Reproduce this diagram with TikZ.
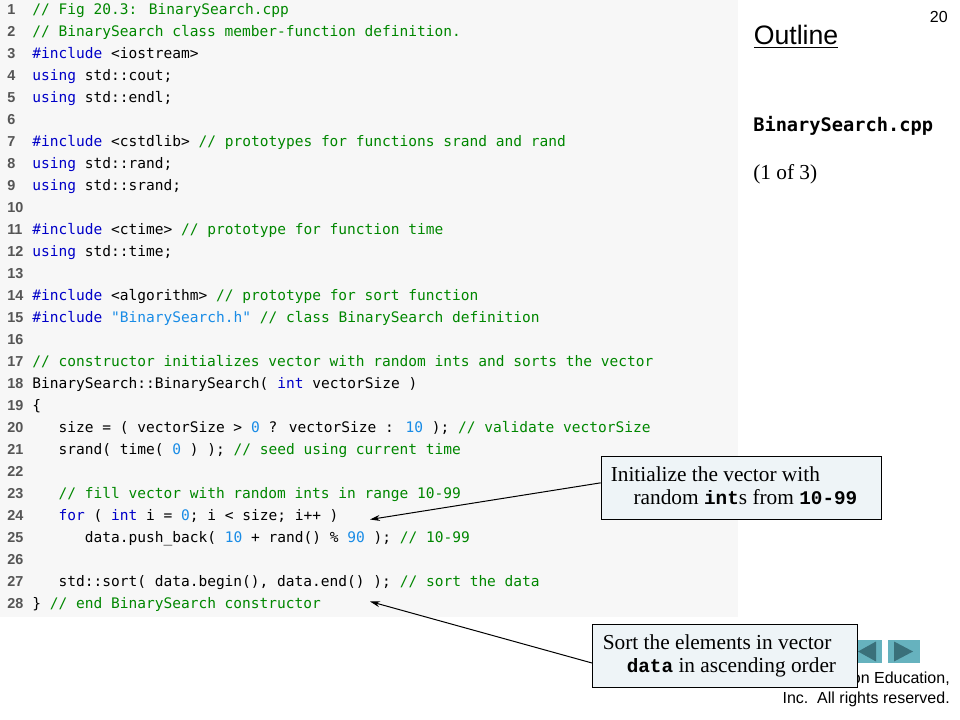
\documentclass[tikz,border=0pt]{standalone}
\usepackage{fontspec}
\setmainfont{Liberation Serif}
\newfontfamily\codefont{DejaVu Sans Mono}
\newfontfamily\arialfont{Liberation Sans}
\newfontfamily\courfont{Liberation Mono}
\usetikzlibrary{arrows.meta}
\definecolor{codebg}{RGB}{247,247,247}
\definecolor{kwblue}{RGB}{0,0,200}
\definecolor{cmgreen}{RGB}{0,135,0}
\definecolor{numblue}{RGB}{25,140,230}
\definecolor{lngray}{RGB}{85,85,85}
\definecolor{boxfill}{RGB}{238,244,247}
\definecolor{navbg}{RGB}{102,178,190}
\definecolor{navtri}{RGB}{58,112,122}
\newcommand\ckw[1]{\textcolor{kwblue}{#1}}
\newcommand\ccm[1]{\textcolor{cmgreen}{#1}}
\newcommand\cnum[1]{\textcolor{numblue}{#1}}
\newcommand\cbold[1]{{\courfont\bfseries\fontsize{14.5pt}{16pt}\selectfont #1}}
\newcommand\codeat[2]{\node[codeline] (L#1) at (32,{14.7+22*(#1-1)}) {#2};}
\tikzset{
  codeline/.style={anchor=base west, inner sep=0pt, font=\codefont\fontsize{10.9pt}{13pt}\selectfont},
  lnum/.style={anchor=base west, inner sep=0pt, text=lngray, font=\arialfont\bfseries\fontsize{10.8pt}{12pt}\selectfont},
  callout/.style={draw=black, line width=0.75pt, fill=boxfill, inner sep=0pt},
  calltext/.style={anchor=base west, inner sep=0pt, font=\fontsize{16pt}{19pt}\selectfont},
  conn/.style={draw=black, line width=0.75pt, -{Stealth[length=7.5pt,width=4.5pt]}},
  navbtn/.style={fill=navbg, inner sep=0pt, minimum width=24pt, minimum height=17.25pt},
  sidetext/.style={anchor=base west, inner sep=0pt}
}
\begin{document}
\begin{tikzpicture}[x=0.75pt,y=-0.75pt]
\useasboundingbox (0,0) rectangle (960,720);
\fill[codebg] (0,0) rectangle (738,617);
% line numbers
\foreach \i in {1,...,28} \node[lnum] (N\i) at (7,{14.7+22*(\i-1)}) {\i};
% code
\codeat{1}{\ccm{// Fig 20.3: BinarySearch.cpp}}
\codeat{2}{\ccm{// BinarySearch class member-function definition.}}
\codeat{3}{\ckw{\#include} <iostream>}
\codeat{4}{\ckw{using} std::cout;}
\codeat{5}{\ckw{using} std::endl;}
\codeat{7}{\ckw{\#include} <cstdlib> \ccm{// prototypes for functions srand and rand}}
\codeat{8}{\ckw{using} std::rand;}
\codeat{9}{\ckw{using} std::srand;}
\codeat{11}{\ckw{\#include} <ctime> \ccm{// prototype for function time}}
\codeat{12}{\ckw{using} std::time;}
\codeat{14}{\ckw{\#include} <algorithm> \ccm{// prototype for sort function}}
\codeat{15}{\ckw{\#include} \cnum{"BinarySearch.h"} \ccm{// class BinarySearch definition}}
\codeat{17}{\ccm{// constructor initializes vector with random ints and sorts the vector}}
\codeat{18}{BinarySearch::BinarySearch( \ckw{int} vectorSize )}
\codeat{19}{\{}
\codeat{20}{\phantom{xxx}size = ( vectorSize > \cnum{0} ? vectorSize : \cnum{10} ); \ccm{// validate vectorSize}}
\codeat{21}{\phantom{xxx}srand( time( \cnum{0} ) ); \ccm{// seed using current time}}
\codeat{23}{\phantom{xxx}\ccm{// fill vector with random ints in range 10-99}}
\codeat{24}{\phantom{xxx}\ckw{for} ( \ckw{int} i = \cnum{0}; i < size; i++ )}
\codeat{25}{\phantom{xxxxxx}data.push\_back( \cnum{10} + rand() \% \cnum{90} ); \ccm{// 10-99}}
\codeat{27}{\phantom{xxx}std::sort( data.begin(), data.end() ); \ccm{// sort the data}}
\codeat{28}{\} \ccm{// end BinarySearch constructor}}
% right side
\node[anchor=base east, inner sep=0pt, font=\arialfont\fontsize{12pt}{14pt}\selectfont] (pgnum) at (948,23) {20};
\node[sidetext, font=\arialfont\fontsize{20pt}{24pt}\selectfont] (outline) at (753.5,45) {\underline{Outline}};
\node[sidetext, font=\codefont\bfseries\fontsize{14pt}{16pt}\selectfont] (fname) at (753,132) {BinarySearch.cpp};
\node[sidetext, font=\fontsize{16pt}{19pt}\selectfont] (part) at (753,180) {(1 of 3)};
% copyright
\node[anchor=base east, inner sep=0pt, font=\arialfont\fontsize{12pt}{14pt}\selectfont] (copy1) at (950,683) {on Education,};
\node[anchor=base east, inner sep=0pt, font=\arialfont\fontsize{12pt}{14pt}\selectfont] (copy2) at (950,703) {Inc.\ \ All rights reserved.};
% navigation buttons
\node[navbtn] (prev) at (866,651.5) {};
\node[navbtn] (next) at (904,651.5) {};
\fill[navtri] (876,641.5) -- (858,651.5) -- (876,661.5) -- cycle;
\fill[navtri] (894,641.5) -- (913,651.5) -- (894,661.5) -- cycle;
% callouts
\node[callout, anchor=north west, minimum width=210pt, minimum height=47pt] (box1) at (600.7,456) {};
\node[calltext] (t1a) at (610.5,481) {Initialize the vector with};
\node[calltext] (t1b) at (633.3,504) {random \cbold{int}s from \cbold{10-99}};
\node[callout, anchor=north west, minimum width=198.75pt, minimum height=47.25pt] (box2) at (592,624) {};
\node[calltext] (t2a) at (602.5,649.3) {Sort the elements in vector};
\node[calltext] (t2b) at (626.5,672.3) {\cbold{data} in ascending order};
% connectors
\coordinate (tip1) at (370,519.5);
\coordinate (tip2) at (370,601.5);
\draw[conn] ([yshift=3.75pt]box1.west) -- (tip1);
\draw[conn] ([yshift=-5.25pt]box2.west) -- (tip2);
\end{tikzpicture}
\end{document}
